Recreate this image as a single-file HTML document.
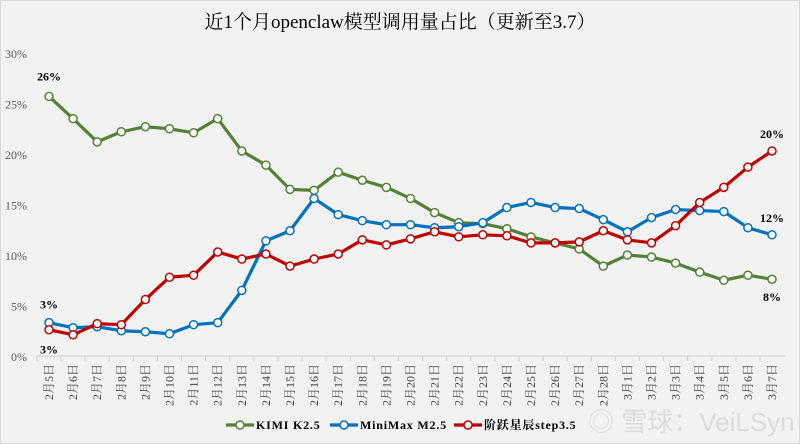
<!DOCTYPE html>
<html><head><meta charset="utf-8"><style>
body{margin:0;background:#f2f2f2;}
svg{display:block;font-family:"Liberation Serif","Noto Serif CJK SC",serif;}
</style></head><body>
<svg id="c" width="800" height="444" viewBox="0 0 800 444">
<rect x="0.5" y="0.5" width="799" height="443" fill="#f2f2f2" stroke="#d9d9d9"/>
<text x="400" y="28" text-anchor="middle" font-size="19" fill="#000">近1个月openclaw模型调用量占比（更新至3.7）</text>
<g id="grid"></g><g id="series"></g><g id="labels"></g>
<text x="588" y="431" font-family="Liberation Sans, Noto Sans CJK SC, sans-serif" font-size="26" fill="#dcdcdc">◎ 雪球：VeiLSyn</text>
<g id="legend"></g>
</svg>
<script>
const categories=["2月5日","2月6日","2月7日","2月8日","2月9日","2月10日","2月11日","2月12日","2月13日","2月14日","2月15日","2月16日","2月17日","2月18日","2月19日","2月20日","2月21日","2月22日","2月23日","2月24日","2月25日","2月26日","2月27日","2月28日","3月1日","3月2日","3月3日","3月4日","3月5日","3月6日","3月7日"];
const kimi=[25.7,23.5,21.2,22.2,22.7,22.5,22.1,23.5,20.3,18.9,16.5,16.4,18.2,17.4,16.7,15.6,14.2,13.2,13.1,12.6,11.8,11.2,10.6,8.9,10.0,9.8,9.2,8.3,7.5,8.0,7.6];
const minimax=[3.3,2.8,2.9,2.5,2.4,2.2,3.1,3.3,6.5,11.4,12.4,15.6,14.0,13.4,13.0,13.0,12.7,12.8,13.2,14.7,15.2,14.7,14.6,13.5,12.3,13.7,14.5,14.4,14.3,12.7,12.0];
const step=[2.6,2.1,3.2,3.1,5.6,7.8,8.0,10.3,9.6,10.1,8.9,9.6,10.1,11.5,11.0,11.6,12.3,11.8,12.0,11.9,11.2,11.2,11.3,12.4,11.5,11.2,12.9,15.2,16.7,18.7,20.3];
const yTicks=[0,5,10,15,20,25,30];
const seriesNames=["KIMI K2.5","MiniMax M2.5","阶跃星辰step3.5"];
const NS="http://www.w3.org/2000/svg";
const x0=49,dx=(772-49)/30,yB=356,yT=53;
const X=i=>x0+i*dx, Y=v=>yB-(v/30)*(yB-yT);
function mk(t,a,p){const e=document.createElementNS(NS,t);for(const k in a)e.setAttribute(k,a[k]);p.appendChild(e);return e;}
const grid=document.getElementById('grid');
yTicks.forEach(v=>{const t=mk('text',{x:27,y:Y(v)+5,'text-anchor':'end','font-size':12,fill:'#595959'},grid);t.textContent=v+'%';

});
const ax=mk('line',{x1:37,x2:785,y1:yB,y2:yB,stroke:'#d0d0d0'},grid);


categories.forEach((c,i)=>{const tx=X(i)-dx/2;mk('line',{x1:tx,x2:tx,y1:yB,y2:yB+5,stroke:'#d0d0d0'},grid);
const t=mk('text',{x:0,y:0,transform:`translate(${X(i)+4},364) rotate(-90)`,'text-anchor':'end','font-size':12,fill:'#404040'},grid);t.textContent=c;

});
const colors=['#538135','#0070c0','#c00000'];
const data=[kimi,minimax,step];
const sg=document.getElementById('series');
data.forEach((d,s)=>{const g=mk('g',{},sg);


mk('polyline',{points:d.map((v,i)=>X(i)+','+Y(v)).join(' '),fill:'none',stroke:colors[s],'stroke-width':3.2,'stroke-linejoin':'round'},g);
d.forEach((v,i)=>{const c=mk('circle',{cx:X(i),cy:Y(v),r:4,fill:'#fff',stroke:colors[s],'stroke-width':1.5},g);

});});
const lg=document.getElementById('labels');
function lab(txt,x,y){const t=mk('text',{x:x,y:y,'text-anchor':'middle','font-size':12,'font-weight':'bold',fill:'#000'},lg);t.textContent=txt;

}
const n=categories.length-1;
lab(Math.round(kimi[0])+'%',X(0),Y(kimi[0])-16);
lab(Math.round(minimax[0])+'%',X(0),Y(minimax[0])-14);
lab(Math.round(step[0])+'%',X(0),Y(step[0])+24);
lab(Math.round(step[n])+'%',X(n),Y(step[n])-13);
lab(Math.round(minimax[n])+'%',X(n),Y(minimax[n])-13);
lab(Math.round(kimi[n])+'%',X(n),Y(kimi[n])+22);
const leg=document.getElementById('legend');
const lx=[226,330,454];
seriesNames.forEach((nm,s)=>{const g=mk('g',{},leg);


mk('line',{x1:lx[s],x2:lx[s]+28,y1:425,y2:425,stroke:colors[s],'stroke-width':3.2},g);
mk('circle',{cx:lx[s]+14,cy:425,r:4,fill:'#fff',stroke:colors[s],'stroke-width':1.5},g);
const t=mk('text',{x:lx[s]+30,y:429,'font-size':12,'font-weight':'bold',fill:'#000','letter-spacing':'0.8'},g);t.textContent=nm;});
</script>
</body></html>
